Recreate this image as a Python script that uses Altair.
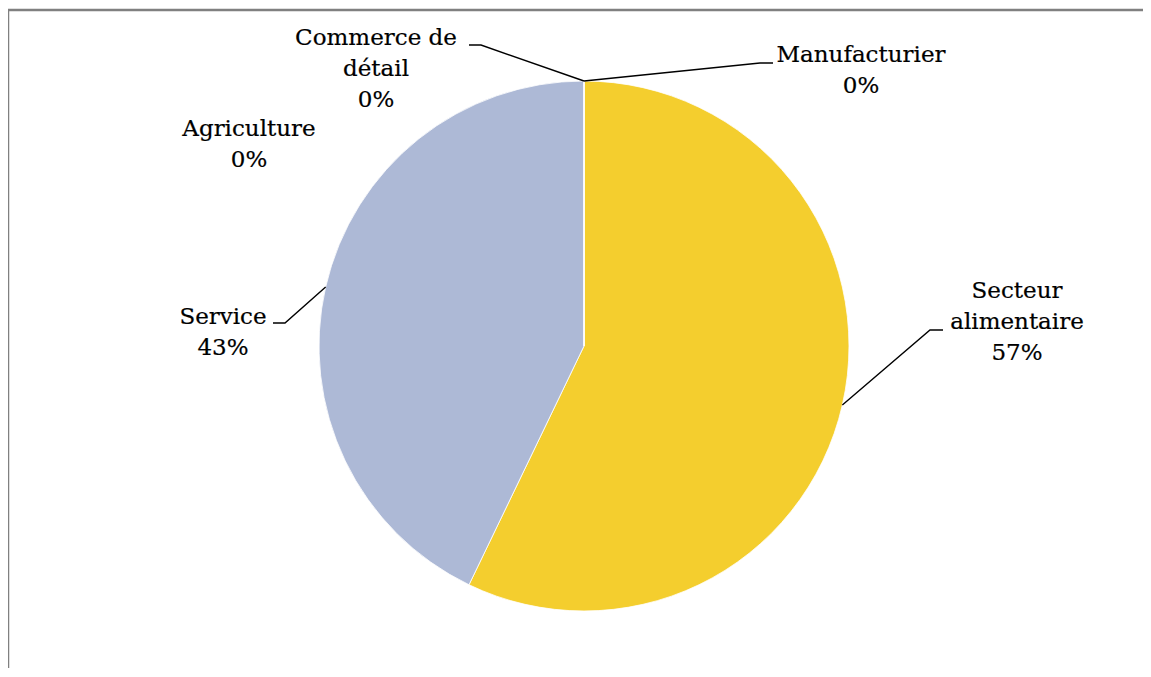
import math
import altair as alt
import pandas as pd

# ---- data ----
categories = ["Manufacturier", "Secteur alimentaire", "Service", "Agriculture", "Commerce de détail"]
counts = [0, 4, 3, 0, 0]
colors = ["#4472C4", "#F4CE2E", "#ADB9D6", "#A5A5A5", "#ED7D31"]
label_lines = [
    ["Manufacturier"],
    ["Secteur", "alimentaire"],
    ["Service"],
    ["Agriculture"],
    ["Commerce de", "détail"],
]

# ---- layout (pixel positions in plot coordinates) ----
W, H = 1135, 660
CX, CY, R = 576, 338, 265
FONT = "DejaVu Serif"
FS = 23
LH = 31
# centre x and first-line centre y of each label block
label_pos = [(853, 47), (1009, 283), (215, 309), (241, 121), (368, 30)]
# elbow / end points of leader lines (None: no leader)
leader_pts = [
    [(752, 55), (765, 55)],
    [(922, 322), (935, 322)],
    [(277, 315), (265, 315)],
    None,
    [(473, 37), (461, 37)],
]

total = sum(counts)
pcts = [round(v / total * 100) for v in counts]

pie_df = pd.DataFrame({"cat": categories, "val": counts, "ord": list(range(len(categories)))})

# label lines
rows = []
for i, lines in enumerate(label_lines):
    x, y = label_pos[i]
    allines = lines + [f"{pcts[i]}%"]
    for j, t in enumerate(allines):
        rows.append({"x": x, "y": y + j * LH, "t": t})
lab_df = pd.DataFrame(rows)

# leader lines: anchor on rim at mid-angle of the slice
lrows = []
cum = 0
for i, v in enumerate(counts):
    mid = (cum + v / 2) / total * 2 * math.pi
    cum += v
    if leader_pts[i] is None:
        continue
    ax = CX + R * math.sin(mid)
    ay = CY - R * math.cos(mid)
    pts = [(ax, ay)] + leader_pts[i]
    for k, (px, py) in enumerate(pts):
        lrows.append({"id": i, "k": k, "x": px, "y": py})
lead_df = pd.DataFrame(lrows)

pie = alt.Chart(pie_df).mark_arc(outerRadius=R, stroke="white", strokeWidth=0.8).encode(
    theta=alt.Theta("val:Q", stack=True),
    order=alt.Order("ord:Q"),
    color=alt.Color("cat:N", scale=alt.Scale(domain=categories, range=colors), legend=None),
    x=alt.value(CX),
    y=alt.value(CY),
)

leaders = alt.Chart(lead_df).mark_line(color="black", strokeWidth=1.4).encode(
    x=alt.X("x:Q", scale=None, axis=None),
    y=alt.Y("y:Q", scale=None, axis=None),
    detail="id:N",
    order="k:Q",
)

labels = alt.Chart(lab_df).mark_text(
    font=FONT, fontSize=FS, color="#000000", baseline="middle", align="center",
    stroke="#000000", strokeWidth=0.2,
).encode(
    x=alt.X("x:Q", scale=None, axis=None),
    y=alt.Y("y:Q", scale=None, axis=None),
    text="t:N",
)

frame = alt.Chart(pd.DataFrame({"a": [0]})).mark_rule(color="#808080", strokeWidth=2.5).encode(
    x=alt.value(0), x2=alt.value(W), y=alt.value(2), y2=alt.value(2)
)
frame2 = alt.Chart(pd.DataFrame({"a": [0]})).mark_rule(color="#808080", strokeWidth=2.5).encode(
    x=alt.value(0), x2=alt.value(0), y=alt.value(2), y2=alt.value(H)
)

chart = alt.layer(frame, frame2, pie, leaders, labels).properties(
    width=W, height=H, padding=0, autosize=alt.AutoSizeParams(type="none")
).configure_view(stroke=None)

chart.save("out.html", embed_options={"renderer": "svg", "actions": False})
